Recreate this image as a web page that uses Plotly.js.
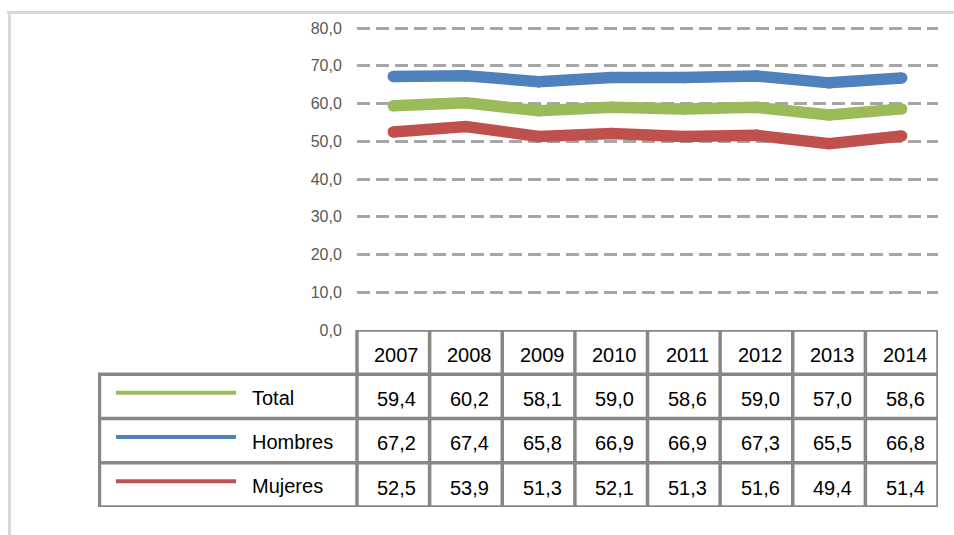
<!DOCTYPE html>
<html>
<head>
<meta charset="utf-8">
<script src="https://cdn.plot.ly/plotly-3.0.1.min.js"></script>
<style>html,body{margin:0;padding:0;background:#fff;}#chart{width:954px;height:535px;}</style>
</head>
<body>
<div id="chart"></div>
<script>
const years = ['2007','2008','2009','2010','2011','2012','2013','2014'];
const total = [59.4, 60.2, 58.1, 59.0, 58.6, 59.0, 57.0, 58.6];
const hombres = [67.2, 67.4, 65.8, 66.9, 66.9, 67.3, 65.5, 66.8];
const mujeres = [52.5, 53.9, 51.3, 52.1, 51.3, 51.6, 49.4, 51.4];
const seriesNames = ['Total', 'Hombres', 'Mujeres'];
const seriesColors = ['#9BBB59', '#4F81BD', '#C0504D'];
const yTickVals = [0, 10, 20, 30, 40, 50, 60, 70, 80];

const W = 954, H = 535;
const M = {l: 98, r: 16, t: 27, b: 28};
const PW = W - M.l - M.r, PH = H - M.t - M.b;
const plotLeft = 357, plotRight = W - M.r, plotBottom = 330;
const L = (plotRight - plotLeft) / years.length;
const xDomStart = (plotLeft - M.l) / PW;
const yDomStart = (H - M.b - plotBottom) / PH;
const x2Min = -0.5 - (plotLeft - M.l) / L;
const px2x = p => x2Min + (p - M.l) / L;
const px2paperX = p => (p - M.l) / PW;
const px2paperY = p => (H - M.b - p) / PH;

const seriesData = [total, hombres, mujeres];
const fmt = v => v.toFixed(1).replace('.', ',');

// draw order: Mujeres, Total, Hombres (blue on top)
const traces = [2, 0, 1].map(k => ({
  x: years.map((_, i) => i),
  y: seriesData[k],
  name: seriesNames[k],
  type: 'scatter',
  mode: 'lines+markers',
  line: {color: seriesColors[k], width: 11.5},
  marker: {color: seriesColors[k], size: 11.5, line: {width: 0}},
  xaxis: 'x', yaxis: 'y',
  hoverinfo: 'skip',
  showlegend: false
}));

const border = '#878787', bw = 3.5;
const shapes = [];
const nRows = seriesNames.length + 1;
// horizontal table lines
shapes.push({type: 'line', xref: 'x2', yref: 'y2', x0: -0.5, x1: years.length - 0.5, y0: 0, y1: 0, line: {color: border, width: bw}, layer: 'above'});
for (let r = 1; r <= nRows; r++) {
  shapes.push({type: 'line', xref: 'x2', yref: 'y2', x0: x2Min, x1: years.length - 0.5, y0: r, y1: r, line: {color: border, width: bw}, layer: 'above'});
}
// vertical table lines
shapes.push({type: 'line', xref: 'x2', yref: 'y2', x0: x2Min + 0.02, x1: x2Min + 0.02, y0: 1, y1: nRows, line: {color: border, width: bw}, layer: 'above'});
for (let i = 0; i <= years.length; i++) {
  shapes.push({type: 'line', xref: 'x2', yref: 'y2', x0: i - 0.5, x1: i - 0.5, y0: 0, y1: nRows, line: {color: border, width: bw}, layer: 'above'});
}
// legend keys
seriesNames.forEach((n, k) => {
  shapes.push({type: 'line', xref: 'x2', yref: 'y2', x0: px2x(116), x1: px2x(236), y0: k + 1.42, y1: k + 1.42, line: {color: seriesColors[k], width: 4}, layer: 'above'});
});
// outer frame
shapes.push({type: 'line', xref: 'paper', yref: 'paper', x0: px2paperX(7), x1: px2paperX(954), y0: px2paperY(12.5), y1: px2paperY(12.5), line: {color: '#d9d9d9', width: 3}});
shapes.push({type: 'line', xref: 'paper', yref: 'paper', x0: px2paperX(9.5), x1: px2paperX(9.5), y0: px2paperY(11), y1: px2paperY(535), line: {color: '#d9d9d9', width: 3}});

const tfont = {family: 'Liberation Sans, Arial, sans-serif', size: 20, color: '#000'};
const annotations = [];
years.forEach((yr, i) => {
  annotations.push({xref: 'x2', yref: 'y2', x: i + 0.05, y: 0.57, text: yr, showarrow: false, xanchor: 'center', yanchor: 'middle', font: tfont});
  seriesData.forEach((arr, k) => {
    annotations.push({xref: 'x2', yref: 'y2', x: i + 0.05, y: k + 1.56, text: fmt(arr[i]), showarrow: false, xanchor: 'center', yanchor: 'middle', font: tfont});
  });
});
seriesNames.forEach((n, k) => {
  annotations.push({xref: 'x2', yref: 'y2', x: px2x(250), y: k + 1.53, text: n, showarrow: false, xanchor: 'left', yanchor: 'middle', font: tfont});
});

const layout = {
  width: W, height: H,
  margin: M,
  paper_bgcolor: '#fff', plot_bgcolor: 'rgba(0,0,0,0)',
  separators: ',.',
  showlegend: false,
  xaxis: {domain: [xDomStart, 1], range: [-0.5, years.length - 0.5], showticklabels: false, showgrid: false, zeroline: false, showline: false, ticks: '', anchor: 'y', fixedrange: true},
  yaxis: {domain: [yDomStart, 1], range: [0, 80.3], tickvals: yTickVals, tickformat: '.1f', showgrid: true, gridcolor: '#a6a6a6', gridwidth: 3, griddash: '13px,6px', zeroline: false, showline: false, ticks: 'outside', ticklen: 11, tickcolor: 'rgba(0,0,0,0)', tickfont: {family: 'Liberation Sans, Arial, sans-serif', size: 16, color: '#595959'}, anchor: 'x', fixedrange: true},
  xaxis2: {domain: [0, 1], range: [x2Min, years.length - 0.5], visible: false, anchor: 'y2', fixedrange: true},
  yaxis2: {domain: [0, yDomStart], range: [nRows, 0], visible: false, anchor: 'x2', fixedrange: true},
  shapes: shapes,
  annotations: annotations
};

Plotly.newPlot('chart', traces, layout, {displayModeBar: false, staticPlot: true});
</script>
</body>
</html>
